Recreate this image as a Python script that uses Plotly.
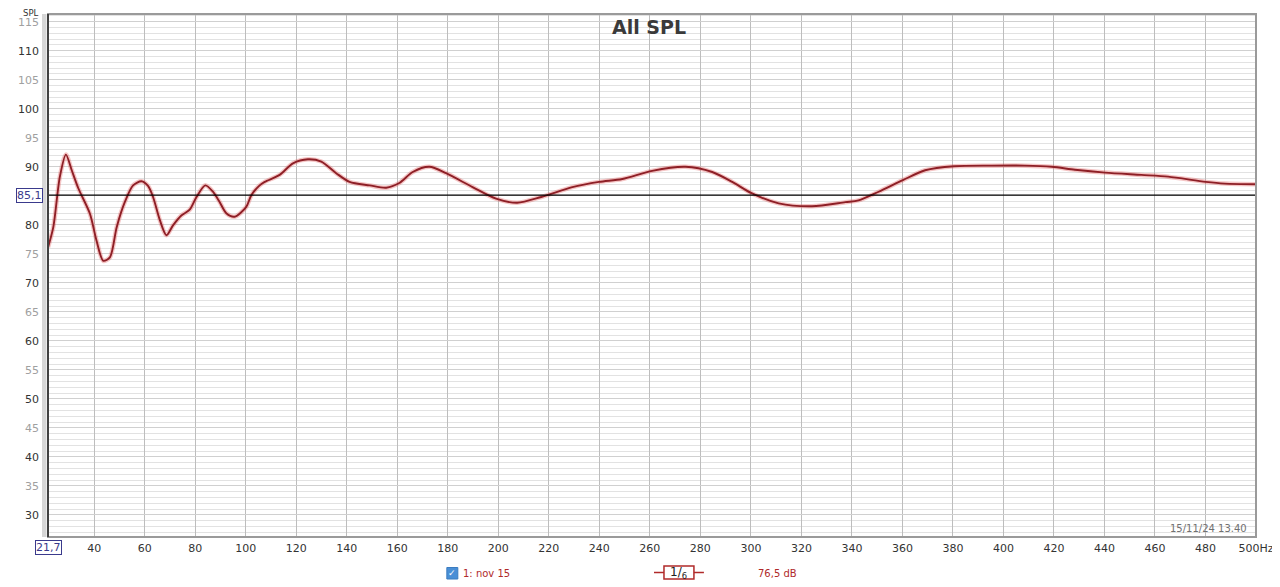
import plotly.graph_objects as go

# ---------------- data ----------------
freq_hz = [21.7, 23.8, 26.4, 28.8, 31.1, 33.7, 38.3, 40.9, 43.6, 46.2, 48.9, 52.1,
           55.4, 58.7, 61.3, 63.3, 66.0, 68.6, 71.2, 74.5, 77.8, 80.5, 84.0, 87.0,
           89.7, 92.3, 95.6, 100.2, 102.2, 105.5, 107.5, 113.4, 118.7, 124.6, 129.9,
           135.8, 141.1, 149.0, 155.6, 160.8, 166.1, 172.7, 179.3, 189.8, 199.1, 207.5,
           217.0, 229.3, 239.9, 249.1, 260.9, 274.1, 284.7, 292.6, 300.5, 311.0, 324.2,
           337.4, 342.6, 350.6, 360.2, 369.0, 380.5, 395.3, 408.5, 419.1, 428.3, 440.2,
           454.6, 465.2, 480.1, 487.6, 500.0]
spl_db = [76.1, 79.6, 88.3, 92.1, 89.4, 86.3, 81.9, 77.3, 73.8, 74.4, 79.6, 83.9,
          86.8, 87.5, 86.7, 84.8, 80.8, 78.2, 79.9, 81.6, 82.6, 84.8, 86.8, 85.7,
          83.9, 82.0, 81.4, 83.1, 85.1, 86.8, 87.4, 88.6, 90.6, 91.3, 90.9,
          88.9, 87.4, 86.8, 86.4, 87.2, 89.1, 90.0, 88.9, 86.5, 84.5, 83.8,
          84.8, 86.5, 87.4, 87.9, 89.3, 90.0, 89.1, 87.4, 85.4, 83.7, 83.2,
          83.9, 84.2, 85.7, 87.7, 89.4, 90.1, 90.2, 90.2, 90.0, 89.5, 89.0,
          88.6, 88.3, 87.4, 87.1, 87.0]

x_ticks = list(range(40, 501, 20))
x_ticktext = [str(v) for v in range(40, 481, 20)] + ["500Hz"]
y_ticks = [v for v in range(30, 116, 5) if v != 85]
ref_level = 85.1
x_start = 21.7

title_text = "All SPL"
legend_name = "1: nov 15"
level_text = "76,5 dB"
date_text = "15/11/24 13.40"

# ---------------- layout geometry (page pixels) ----------------
OFF = 8                      # default body margin of the html page
W, H = 1280 - OFF, 587 - OFF
L, R, T, B = 48, 1258, 14, 537


def px(x):
    return (x - L) / (R - L)


def py(y):
    return (B - y) / (B - T)


y_ticktext = [str(v) if v % 10 == 0 else "<span style='color:#a0a0a0'>%d</span>" % v for v in y_ticks]

font_family = "DejaVu Sans, Liberation Sans, sans-serif"
red = "#b02a2a"

fig = go.Figure()
fig.add_trace(go.Scatter(x=freq_hz, y=spl_db, mode="lines",
                         line=dict(color="rgba(225,90,90,0.35)", width=4.5, shape="spline", smoothing=0.8),
                         hoverinfo="skip", showlegend=False))
fig.add_trace(go.Scatter(x=freq_hz, y=spl_db, mode="lines",
                         line=dict(color="#8e1f26", width=1.9, shape="spline", smoothing=0.8),
                         showlegend=False))

fig.update_layout(
    width=W, height=H,
    margin=dict(l=L - OFF, r=1280 - R, t=T - OFF, b=587 - B, pad=0),
    paper_bgcolor="white", plot_bgcolor="white",
    font=dict(family=font_family, size=11, color="#333333"),
    showlegend=False,
    xaxis=dict(range=[x_start, 500], tickmode="array", tickvals=x_ticks, ticktext=x_ticktext,
               showgrid=True, gridcolor="#bdbdbd", gridwidth=1, zeroline=False,
               showline=False, ticks="", ticklabelstandoff=3,
               tickfont=dict(size=11, color="#333333")),
    yaxis=dict(range=[26.2, 116.33], tickmode="array", tickvals=y_ticks, ticktext=y_ticktext,
               showgrid=True, gridcolor="#d0d0d0", gridwidth=1, zeroline=False,
               showline=False, ticks="", ticklabelstandoff=8,
               tickfont=dict(size=11, color="#333333"),
               minor=dict(dtick=1, tick0=0, showgrid=True, gridcolor="#e2e2e2", gridwidth=1)),
)

fig.add_shape(type="line", xref="paper", yref="y", x0=0, x1=1, y0=ref_level, y1=ref_level,
              line=dict(color="black", width=1.2))

fig.add_shape(type="rect", xref="paper", yref="paper", x0=px(42), x1=px(46.5), y0=0, y1=1,
              fillcolor="#d6d6d6", line=dict(width=0), layer="above")
fig.add_shape(type="rect", xref="paper", yref="paper", x0=0, x1=1, y0=0, y1=1,
              line=dict(color="#9a9a9a", width=2), layer="above")
fig.add_shape(type="line", xref="paper", yref="paper", x0=0, x1=0, y0=0, y1=1,
              line=dict(color="#222222", width=1.5), layer="above")


def note(x, y, text, size, color, xanchor="center", yref="paper", **kw):
    return dict(x=x, y=y, xref="paper", yref=yref, text=text, showarrow=False,
                xanchor=xanchor, yanchor="middle",
                font=dict(size=size, color=color, family=font_family), **kw)


ann = [
    note(px(650), py(27), "<b>" + title_text + "</b>", 19, "#3a3a3a"),
    note(px(31), py(12.5), "SPL", 8.5, "#333333"),
    note(px(29.5), ref_level, "85,1", 11, "#3a3a8c", yref="y",
         bordercolor="#3a3a8c", borderwidth=1, borderpad=0, bgcolor="white"),
    note(px(48), py(547.5), str(x_start).replace(".", ","), 11, "#3a3a8c",
         bordercolor="#3a3a8c", borderwidth=1, borderpad=0, bgcolor="white"),
    note(px(1251), py(528), date_text, 10, "#707070", xanchor="right"),
    note(px(462), py(573), legend_name, 10, red, xanchor="left"),
    note(px(453), py(573), "<b>✓</b>", 9, "white"),
    note(px(680), py(572.5), "1/<sub>6</sub>", 12, "#222222"),
    note(px(757), py(573), level_text, 10, red, xanchor="left"),
]
fig.update_layout(annotations=ann)

fig.add_shape(type="rect", xref="paper", yref="paper", x0=px(447.5), x1=px(458.5), y0=py(579), y1=py(567.5),
              fillcolor="#4a8fd6", line=dict(color="#3b7cc0", width=1), layer="below")
fig.add_shape(type="rect", xref="paper", yref="paper", x0=px(665), x1=px(695), y0=py(579), y1=py(566),
              line=dict(color=red, width=1.5), fillcolor="white", layer="below")
fig.add_shape(type="line", xref="paper", yref="paper", x0=px(655), x1=px(665), y0=py(572.5), y1=py(572.5),
              line=dict(color=red, width=1.5))
fig.add_shape(type="line", xref="paper", yref="paper", x0=px(695), x1=px(705), y0=py(572.5), y1=py(572.5),
              line=dict(color=red, width=1.5))

fig.write_html("out.html")
